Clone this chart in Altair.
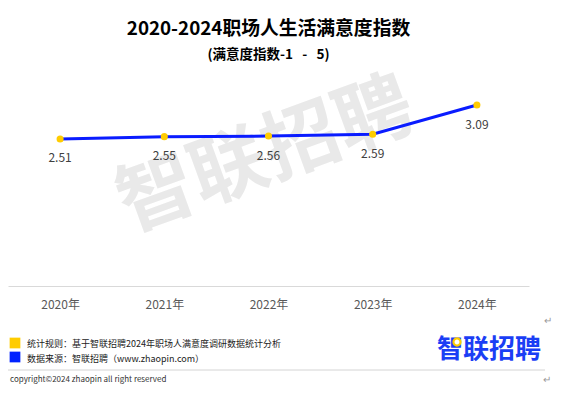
import altair as alt
import pandas as pd

years = ["2020年", "2021年", "2022年", "2023年", "2024年"]
index_values = [2.51, 2.55, 2.56, 2.59, 3.09]

title_text = "2020-2024职场人生活满意度指数"
subtitle_text = "(满意度指数-1\u00a0\u00a0\u00a0-\u00a0\u00a0\u00a05)"
watermark_text = "智联招聘"
note_rule = "统计规则：基于智联招聘2024年职场人满意度调研数据统计分析"
note_source = "数据来源：智联招聘（www.zhaopin.com）"
logo_text = "智联招聘"
copyright_text = "copyright©2024 zhaopin all right reserved"
return_mark = "↵"

FONT = "Noto Sans CJK SC"
W, H = 521, 205

df = pd.DataFrame({"year": years, "v": index_values})

xenc = alt.X("year:N", sort=None,
             scale=alt.Scale(type="point", padding=0.5),
             axis=alt.Axis(title=None, ticks=False, tickSize=0, grid=False,
                           domainColor="#d9d9d9", domainWidth=1,
                           labelPadding=18, labelBaseline="middle",
                           labelFont=FONT, labelFontSize=12, labelColor="#595959",
                           labelAngle=0))
yenc = alt.Y("v:Q", scale=alt.Scale(domain=[0, 3.5], nice=False, zero=True), axis=None)


def txt(s, x, y, **kw):
    return alt.Chart(pd.DataFrame({"t": [s]})).mark_text(font=FONT, **kw).encode(
        text="t:N", x=alt.value(x), y=alt.value(y))


watermark = txt(watermark_text, 258, 76, fontSize=77, fontWeight="bold",
                color="#e9e9e9", angle=340, align="center", baseline="middle")

base = alt.Chart(df)
line = base.mark_line(color="#0a1cff", strokeWidth=3).encode(x=xenc, y=yenc)
pts = base.mark_circle(color="#ffcc00", size=50, opacity=1).encode(x=xenc, y=yenc)
labels = base.mark_text(font=FONT, fontSize=12, color="#404040", dy=19.5,
                        baseline="middle").encode(
    x=xenc, y=yenc, text=alt.Text("v:Q", format=".2f"))

title = txt(title_text, W / 2, -52, fontSize=18.8, fontWeight="bold", color="#000000",
            align="center", baseline="middle")
subtitle = txt(subtitle_text, W / 2, -26, fontSize=13.5, fontWeight="bold",
               color="#000000", align="center", baseline="middle")

sq_y = alt.Chart(pd.DataFrame({"c": ["y"]})).mark_square(size=115, color="#ffcc00", opacity=1).encode(
    x=alt.value(7), y=alt.value(262))
sq_b = alt.Chart(pd.DataFrame({"c": ["b"]})).mark_square(size=115, color="#0022ff", opacity=1).encode(
    x=alt.value(7), y=alt.value(276))
t1 = txt(note_rule, 19, 263, fontSize=9, color="#222222", align="left", baseline="middle")
t2 = txt(note_source, 19, 278, fontSize=9, color="#222222", align="left", baseline="middle")

logo = txt(logo_text, 481, 269, fontSize=26, fontWeight="bold", color="#1a3ef5",
           align="center", baseline="middle")
ring = alt.Chart(pd.DataFrame({"c": ["r"]})).mark_circle(
    size=50, fill="#ffffff", stroke="#ffcc00", strokeWidth=2.2,
    fillOpacity=1, strokeOpacity=1, opacity=1).encode(x=alt.value(449), y=alt.value(261))

sep = alt.Chart(pd.DataFrame({"c": ["s"]})).mark_rule(color="#d4d4d4", strokeWidth=1).encode(
    x=alt.value(0), x2=alt.value(537), y=alt.value(289))
copy_t = txt(copyright_text, 2, 298.5, fontSize=8, color="#333333", align="left",
             baseline="middle")
ret1 = txt(return_mark, 540, 240, fontSize=10, color="#999999", align="center",
           baseline="middle")
ret2 = txt(return_mark, 539, 298.5, fontSize=10, color="#999999", align="center",
           baseline="middle")

chart = alt.layer(
    watermark, line, pts, labels, title, subtitle, sq_y, sq_b, t1, t2, logo, ring,
    sep, copy_t, ret1, ret2
).properties(
    width=W, height=H,
    background="#ffffff",
    autosize=alt.AutoSizeParams(type="none"),
    padding={"left": 0, "top": 73, "right": 25, "bottom": 105},
).configure_view(stroke=None, strokeWidth=0)

chart.save("out.html", embed_options={"renderer": "svg", "actions": False})
